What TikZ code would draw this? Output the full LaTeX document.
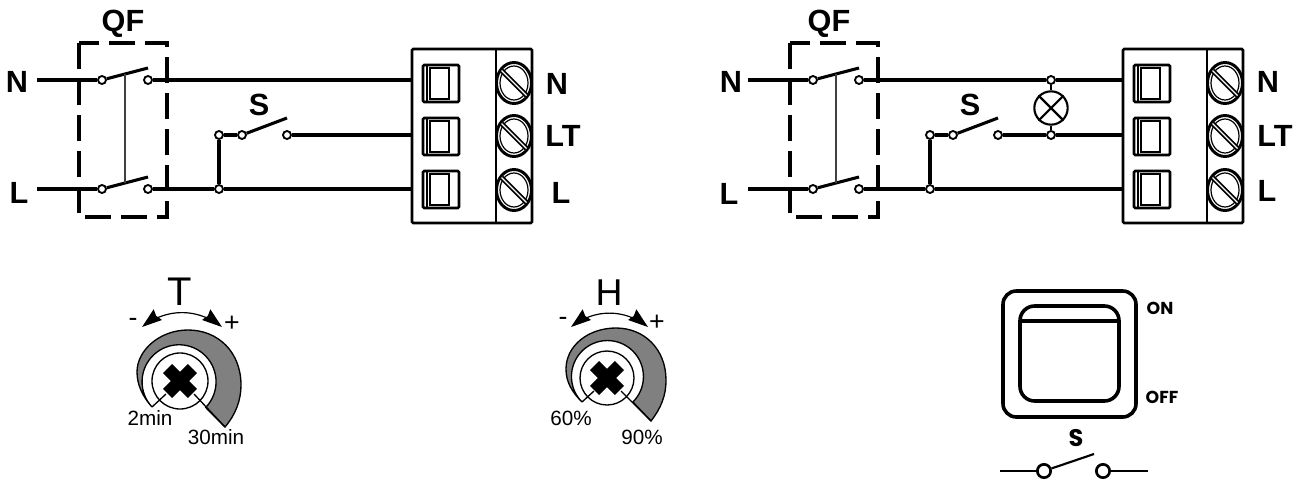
\documentclass[tikz,border=0pt]{standalone}
\usepackage{fontspec}
\setmainfont{Liberation Sans}
\newfontfamily\panelfont{Poppins}
\usetikzlibrary{arrows.meta,bending,calc}
\tikzset{
  wire/.style={line width=2.3pt},
  thinwire/.style={line width=1.6pt},
  contact/.style={circle,draw=black,fill=white,line width=1.4pt,inner sep=0pt,minimum size=6pt},
  bigcontact/.style={circle,draw=black,fill=white,line width=2pt,inner sep=0pt,minimum size=10pt},
  boxline/.style={line width=2pt},
  dashbox/.style={line width=2.6pt,dash pattern=on 19.5pt off 7.5pt},
  tag/.style={inner sep=0pt,font=\bfseries\fontsize{23}{23}\selectfont},
  dialtext/.style={inner sep=0pt,font=\fontsize{15.5}{16}\selectfont},
  dialmark/.style={inner sep=0pt,font=\fontsize{20}{20}\selectfont},
  dialsweep/.style={line width=.9pt,{Stealth[length=15pt,width=10pt,inset=1.5pt,flex=0]}-{Stealth[length=15pt,width=10pt,inset=1.5pt,flex=0]}},
  crescent/.style={fill=black!50,draw=black,line width=1pt},
  lamp/.style={circle,draw=black,fill=white,line width=1.6pt,inner sep=0pt,minimum size=25pt},
  panelline/.style={line width=2.7pt},
  paneltext/.style={inner sep=0pt,font=\panelfont\bfseries\fontsize{13}{13}\selectfont}
}
\begin{document}
\begin{tikzpicture}[x=0.75pt,y=0.75pt]
\useasboundingbox (0,0) rectangle (1304,-479);

% wiring panels
\foreach \ox/\p in {0/a,711/b} {
  \coordinate (\p Nin) at (\ox+37,-80);
  \coordinate (\p Lin) at (\ox+37,-189);
  \coordinate (\p Ne) at (\ox+412,-80);
  \coordinate (\p Te) at (\ox+412,-135);
  \coordinate (\p Le) at (\ox+412,-189);
  \coordinate (\p Nb) at (\ox+148,-68);
  \coordinate (\p Lb) at (\ox+148,-177);
  \coordinate (\p Sb) at (\ox+287,-118);
  \coordinate (\p Ka) at (\ox+125,-74);
  \coordinate (\p Kb) at (\ox+125,-183);

  % breaker box
  \draw[dashbox] (\ox+79,-43) rectangle (\ox+167,-217);

  \node[contact] (\p N1) at (\ox+102,-80) {};
  \node[contact] (\p N2) at (\ox+148,-80) {};
  \node[contact] (\p L1) at (\ox+102,-189) {};
  \node[contact] (\p L2) at (\ox+148,-189) {};
  \node[contact] (\p J1) at (\ox+219,-135) {};
  \node[contact] (\p J2) at (\ox+219,-189) {};
  \node[contact] (\p S1) at (\ox+242,-135) {};
  \node[contact] (\p S2) at (\ox+287,-135) {};

  \draw[wire] (\p Nin) -- (\p N1);
  \draw[wire] (\p Lin) -- (\p L1);
  \draw[wire] (\p L2) -- (\p J2);
  \draw[wire] (\p J2) -- (\p Le);
  \draw[wire] (\p J1) -- (\p J2);
  \draw[wire] (\p J1) -- (\p S1);
  \draw[wire] (\p N1) -- (\p Nb);
  \draw[wire] (\p L1) -- (\p Lb);
  \draw[wire] (\p S1) -- (\p Sb);
  \draw[line width=1.8pt,black!75] (\p Ka) -- (\p Kb);

  % terminal block
  \draw[boxline,rounded corners=1pt] (\ox+412,-49) rectangle (\ox+532,-223);
  \draw[boxline] (\ox+496,-49) -- (\ox+496,-223);
  \foreach \ty/\sy in {65/83,118/136,171/190} {
    \draw[boxline,rounded corners=1pt] (\ox+423,-\ty) rectangle (\ox+459,-\ty-37);
    \draw[line width=2pt] (\ox+430,-\ty-3) rectangle (\ox+449,-\ty-34);
    \draw[line width=1.2pt] (\ox+427,-\ty) -- (\ox+427,-\ty-37);
    \draw[line width=2.2pt] (\ox+514,-\sy) ellipse (17.5 and 20.5);
    \draw[line width=.9pt] (\ox+514,-\sy) ellipse (14 and 17);
    \draw[line width=1.4pt,double=white,double distance=.9pt] (\ox+501.5,-\sy+12.5) -- (\ox+526.5,-\sy-12.5);
  }
}

% wires that differ between the panels
\draw[wire] (aN2) -- (aNe);
\draw[wire] (aS2) -- (aTe);
\node[contact] (lampN) at (1051,-80) {};
\node[contact] (lampT) at (1051,-135) {};
\node[lamp] (lamp) at (1051,-108) {};
\draw[wire] (bN2) -- (lampN);
\draw[wire] (lampN) -- (bNe);
\draw[wire] (bS2) -- (lampT);
\draw[wire] (lampT) -- (bTe);
\draw[thinwire] (lampN) -- (lamp);
\draw[thinwire] (lamp) -- (lampT);
\draw[thinwire] (lamp.45) -- (lamp.225);
\draw[thinwire] (lamp.135) -- (lamp.315);

% labels
\node[tag] (qfa) at (123,-24) {QF};
\node[tag] (qfb) at (829,-24) {QF};
\node[tag] (na) at (17,-82) {N};
\node[tag] (la) at (19,-193) {L};
\node[tag] (nb) at (731,-82) {N};
\node[tag] (lb) at (729,-194) {L};
\node[tag] (sa) at (259,-105) {S};
\node[tag] (sb) at (970,-105) {S};
\node[tag] (ta) at (557,-84) {N};
\node[tag] (tb) at (563,-136) {LT};
\node[tag] (tc) at (561,-193) {L};
\node[tag] (td) at (1268,-82) {N};
\node[tag] (te) at (1275,-136) {LT};
\node[tag] (tf) at (1267,-191) {L};

% T dial
\draw[crescent] (225,-427) .. controls (236,-414) and (241,-400) .. (241,-385)
  .. controls (241,-352) and (218,-330) .. (188,-330)
  .. controls (160,-330) and (137,-350) .. (137,-372)
  .. controls (137,-385) and (143,-397) .. (152,-407)
  arc[start angle=223,end angle=-44,radius=37] -- cycle;
\node[circle,draw=black,fill=white,line width=1pt,inner sep=0pt,minimum size=42pt] (dialT) at (180,-381) {};
\draw[line width=1pt] (152,-407) -- (166,-394);
\draw[line width=1pt] (225,-427) -- (194,-394);
\draw[line width=9.75pt] (167.6,-368.6) -- (192.4,-393.4);
\draw[line width=9.75pt] (167.6,-393.4) -- (192.4,-368.6);
\coordinate (Tl) at (142,-327);
\coordinate (Tr) at (222,-327);
\draw[dialsweep] (Tl) to[bend left=38] (Tr);
\node[inner sep=0pt,font=\fontsize{30}{30}\selectfont] (Tname) at (180,-292) {T};
\node[dialmark] (Tminus) at (133,-322) {-};
\node[dialmark] (Tplus) at (232,-324) {+};
\node[dialtext] (Tlo) at (150,-418) {2min};
\node[dialtext] (Thi) at (216,-437) {30min};

% H dial
\draw[crescent] (651,-421) .. controls (661,-408) and (666,-396) .. (666,-380)
  .. controls (666,-349) and (644,-328) .. (616,-328)
  .. controls (588,-328) and (566,-346) .. (566,-369)
  .. controls (566,-382) and (572,-392) .. (582,-402)
  arc[start angle=225,end angle=-45,radius=36] -- cycle;
\node[circle,draw=black,fill=white,line width=1pt,inner sep=0pt,minimum size=40.5pt] (dialH) at (607,-378) {};
\draw[line width=1pt] (582,-402) -- (594,-391);
\draw[line width=1pt] (651,-421) -- (621,-391);
\draw[line width=9.75pt] (594.6,-365.6) -- (619.4,-390.4);
\draw[line width=9.75pt] (594.6,-390.4) -- (619.4,-365.6);
\coordinate (Hl) at (571,-327);
\coordinate (Hr) at (648,-327);
\draw[dialsweep] (Hl) to[bend left=38] (Hr);
\node[inner sep=0pt,font=\fontsize{28}{28}\selectfont] (Hname) at (609,-293) {H};
\node[dialmark] (Hminus) at (563,-321) {-};
\node[dialmark] (Hplus) at (657,-323) {+};
\node[dialtext] (Hlo) at (571,-418) {60\%};
\node[dialtext] (Hhi) at (642,-437) {90\%};

% rocker switch
\draw[panelline,rounded corners=10pt] (1003,-291) rectangle (1136,-417);
\draw[panelline,rounded corners=11pt] (1020,-306) rectangle (1119,-401);
\draw[panelline] (1020,-321) -- (1119,-321);
\node[paneltext] (on) at (1160,-308) {ON};
\node[paneltext] (off) at (1162,-397) {OFF};
\node[paneltext,font=\panelfont\bfseries\fontsize{18}{18}\selectfont] (sw) at (1076,-438) {S};
\coordinate (swl) at (1000,-471);
\coordinate (swr) at (1148,-471);
\coordinate (swb) at (1094,-454);
\node[bigcontact] (sw1) at (1044,-471) {};
\node[bigcontact] (sw2) at (1103,-471) {};
\draw[thinwire] (swl) -- (sw1);
\draw[thinwire] (sw2) -- (swr);
\draw[thinwire] (sw1) -- (swb);
\end{tikzpicture}
\end{document}
